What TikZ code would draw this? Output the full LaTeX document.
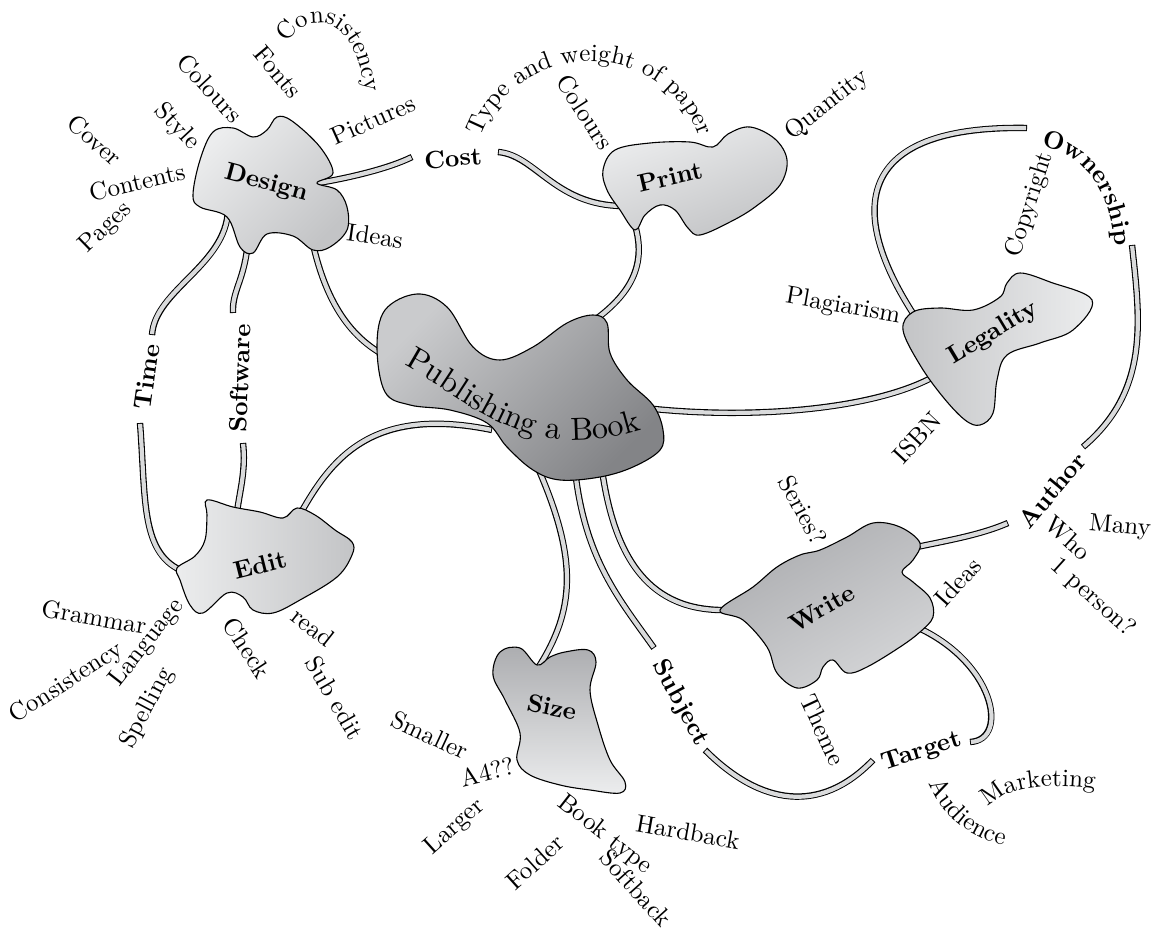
\documentclass[tikz,border=0pt]{standalone}
\usepackage{fontspec}
\setmainfont{lmroman10-regular.otf}[BoldFont=lmroman10-bold.otf]
\usetikzlibrary{decorations.text}
\definecolor{tubecol}{HTML}{DADBDC}
\definecolor{pubL}{HTML}{CACBCD}
\definecolor{pubD}{HTML}{838487}
\definecolor{lightA}{HTML}{ECEDEE}
\definecolor{lightB}{HTML}{C3C4C6}
\definecolor{midA}{HTML}{ACADB0}
\definecolor{midB}{HTML}{D4D5D7}
\begin{document}
\begin{tikzpicture}[x=1pt,y=-1pt,
  tube/.style={draw=tubecol, line width=4.2pt, shorten <=0.9pt, shorten >=0.9pt,
    preaction={draw=black, line width=6.4pt, shorten <=0pt, shorten >=0pt}},
  blob/.style={draw=black, line width=1.1pt},
  lbl/.style={font=\fontsize{25}{30}\selectfont, inner sep=0pt},
  blbl/.style={font=\fontsize{25}{30}\selectfont\bfseries, inner sep=0pt},
  curvtext/.style={decorate, decoration={text along path, text align=center}}
]
\fontsize{25}{30}\selectfont
\useasboundingbox (0,0) rectangle (1156,933);

% ---------- attachment coordinates ----------
\coordinate (dsCost) at (312,184);
\coordinate (dsPub) at (312,240);
\coordinate (dsTime) at (228,210);
\coordinate (dsSoft) at (248,240);
\coordinate (costL) at (412,157);
\coordinate (costR) at (498,152);
\coordinate (prCost) at (622,206);
\coordinate (prPub) at (634,222);
\coordinate (pbDes) at (382,354);
\coordinate (pbPr) at (592,322);
\coordinate (pbLeg) at (645,408);
\coordinate (pbEd) at (492,430);
\coordinate (pbSize) at (538,468);
\coordinate (pbSubj) at (575,470);
\coordinate (pbWr) at (602,470);
\coordinate (lgPub) at (940,373);
\coordinate (lgOwn) at (916,318);
\coordinate (ownL) at (1027,128);
\coordinate (ownB) at (1132,245);
\coordinate (autT) at (1083,447);
\coordinate (autL) at (1008,523);
\coordinate (wrAut) at (912,548);
\coordinate (wrTar) at (912,625);
\coordinate (wrPub) at (728,610);
\coordinate (tarR) at (970,742);
\coordinate (tarL) at (873,760);
\coordinate (subT) at (654,648);
\coordinate (subB) at (705,750);
\coordinate (szPub) at (538,668);
\coordinate (edPub) at (298,518);
\coordinate (edSoft) at (237,512);
\coordinate (edTime) at (185,572);
\coordinate (timeT) at (152,335);
\coordinate (timeB) at (140,423);
\coordinate (softT) at (233,313);
\coordinate (softB) at (243,443);

% ---------- tubes ----------
\draw[tube] (dsCost) .. controls (350,178) and (390,168) .. (costL);
\draw[tube] (costR) .. controls (535,155) and (555,205) .. (prCost);
\draw[tube] (dsPub) .. controls (322,285) and (340,330) .. (pbDes);
\draw[tube] (dsTime) .. controls (226,265) and (155,290) .. (timeT);
\draw[tube] (timeB) .. controls (146,500) and (140,555) .. (edTime);
\draw[tube] (dsSoft) .. controls (245,280) and (232,290) .. (softT);
\draw[tube] (softB) .. controls (246,470) and (240,490) .. (edSoft);
\draw[tube] (edPub) .. controls (330,460) and (370,405) .. (pbEd);
\draw[tube] (prPub) .. controls (648,265) and (630,295) .. (pbPr);
\draw[tube] (pbLeg) .. controls (750,420) and (880,410) .. (lgPub);
\draw[tube] (lgOwn) .. controls (845,210) and (855,125) .. (ownL);
\draw[tube] (ownB) .. controls (1140,320) and (1150,390) .. (autT);
\draw[tube] (wrAut) .. controls (950,540) and (980,535) .. (autL);
\draw[tube] (wrTar) .. controls (995,660) and (1010,740) .. (tarR);
\draw[tube] (subB) .. controls (760,805) and (820,815) .. (tarL);
\draw[tube] (pbSubj) .. controls (585,560) and (620,600) .. (subT);
\draw[tube] (pbSize) .. controls (578,560) and (575,610) .. (szPub);
\draw[tube] (pbWr) .. controls (615,560) and (650,612) .. (wrPub);

% ---------- blobs ----------
% Design
\path[blob, top color=lightA, bottom color=lightB, shading angle=45]
  plot[smooth cycle, tension=0.6] coordinates {(213,132) (233,128) (253,137) (267,130) (277,117) (292,121) (320,147) (333,173) (317,183) (337,190) (347,207) (347,230) (330,247) (313,250) (293,236) (267,234) (253,253) (240,247) (227,217) (200,207) (193,195) (200,160)};
% Print
\path[blob, top color=lightA, bottom color=lightB, shading angle=20]
  plot[smooth cycle, tension=0.6] coordinates {(603,170) (615,150) (650,143) (690,142) (713,147) (728,134) (750,127) (775,139) (787,160) (780,185) (755,207) (730,222) (700,235) (688,228) (675,210) (660,205) (645,215) (635,230) (620,210) (607,190)};
% Publishing
\path[blob, top color=pubL, bottom color=pubD, shading angle=45]
  plot[smooth cycle, tension=0.6] coordinates {(377,347) (385,310) (417,294) (447,307) (473,347) (500,360) (533,347) (567,323) (593,315) (607,323) (610,353) (627,380) (653,405) (663,430) (660,450) (633,467) (600,477) (560,480) (533,470) (507,447) (487,423) (450,410) (410,405) (385,392)};
% Legality
\path[blob, top color=lightB, bottom color=lightA, shading angle=90]
  plot[smooth cycle, tension=0.6] coordinates {(1007,283) (1020,273) (1050,282) (1092,300) (1073,330) (1040,343) (1007,355) (997,380) (993,413) (980,425) (965,420) (943,397) (920,365) (903,330) (913,312) (940,308) (973,310) (1000,297)};
% Write
\path[blob, top color=midA, bottom color=midB, shading angle=30]
  plot[smooth cycle, tension=0.6] coordinates {(720,610) (753,587) (777,567) (800,555) (820,550) (847,537) (873,523) (900,527) (920,543) (913,560) (902,572) (913,582) (930,598) (933,617) (920,632) (900,647) (867,667) (847,673) (833,660) (823,667) (817,680) (797,688) (777,673) (767,647) (743,620)};
% Size
\path[blob, top color=midA, bottom color=lightA, shading angle=0]
  plot[smooth cycle, tension=0.6] coordinates {(537,665) (520,648) (500,652) (493,675) (505,700) (520,733) (517,760) (530,775) (560,785) (590,790) (620,793) (625,782) (610,760) (598,725) (590,690) (596,662) (588,650) (565,652) (550,657)};
% Edit
\path[blob, top color=lightA, bottom color=lightB, shading angle=90]
  plot[smooth cycle, tension=0.6] coordinates {(207,500) (233,507) (260,512) (283,518) (297,508) (315,515) (335,530) (352,542) (352,555) (337,577) (300,600) (273,613) (253,610) (243,597) (227,593) (203,613) (190,605) (180,580) (177,568) (195,556) (205,540) (207,515)};

% ---------- blob labels ----------
\node[blbl, rotate=-15] (design) at (266,184) {Design};
\node[blbl, rotate=13] (print) at (670,177) {Print};
\node[blbl, rotate=31] (legality) at (993,333) {Legality};
\node[blbl, rotate=30] (write) at (822,608) {Write};
\node[blbl, rotate=-12] (size) at (552,707) {Size};
\node[blbl, rotate=14] (edit) at (260,565) {Edit};
\path[curvtext, decoration={text={|\fontsize{32}{38}\selectfont|Publishing a Book}}]
  (394,360) .. controls (468,395) and (520,472) .. (652,426);

% ---------- branch labels (bold) ----------
\node[blbl, rotate=5] (cost) at (453,158) {Cost};
\node[blbl, rotate=82] (time) at (147,377) {Time};
\node[blbl, rotate=88] (software) at (240,378) {Software};
\node[blbl, rotate=50] (author) at (1052,490) {Author};
\node[blbl, rotate=18] (target) at (922,752) {Target};
\node[blbl, rotate=-62] (subject) at (680,703) {Subject};
\path[curvtext, decoration={text={|\bfseries|Ownership}}]
  (1035,145) .. controls (1075,150) and (1112,180) .. (1115,252);

% ---------- Design leaves ----------
\node[lbl, rotate=-42] (cover) at (95,140) {Cover};
\node[lbl, rotate=13] (contents) at (137,182) {Contents};
\node[lbl, rotate=44] (pages) at (106,228) {Pages};
\node[lbl, rotate=-47] (style) at (177,127) {Style};
\node[lbl, rotate=-47] (colours1) at (210,88) {Colours};
\node[lbl, rotate=-50] (fonts) at (278,72) {Fonts};
\path[curvtext, decoration={text={Consistency}}]
  (284,50) .. controls (298,12) and (358,2) .. (366,100);
\node[lbl, rotate=24] (pictures) at (373,120) {Pictures};
\node[lbl, rotate=-8] (ideas1) at (375,236) {Ideas};

% ---------- Print leaves ----------
\path[curvtext, decoration={text={Type and weight of paper}}]
  (480,138) .. controls (517,36) and (663,36) .. (700,138);
\node[lbl, rotate=-57] (colours2) at (585,112) {Colours};
\node[lbl, rotate=38] (quantity) at (827,105) {Quantity};

% ---------- Legality leaves ----------
\node[lbl, rotate=72] (copyright) at (1030,205) {Copyright};
\node[lbl, rotate=-10] (plagiarism) at (843,307) {Plagiarism};
\node[lbl, rotate=47] (isbn) at (917,438) {ISBN};

% ---------- Write leaves ----------
\node[lbl, rotate=-62] (series) at (803,510) {Series?};
\node[lbl, rotate=-5] (many) at (1120,527) {Many};
\node[lbl, rotate=-42] (who) at (1068,538) {Who};
\node[lbl, rotate=-42] (person) at (1093,598) {1 person?};
\node[lbl, rotate=48] (ideas2) at (958,582) {Ideas};
\node[lbl, rotate=-65] (theme) at (823,730) {Theme};
\path[curvtext, decoration={text={Audience}}]
  (924,768) .. controls (934,808) and (965,842) .. (1020,848);
\path[curvtext, decoration={text={Marketing}}]
  (980,818) .. controls (998,790) and (1030,780) .. (1108,790);

% ---------- Size leaves ----------
\node[lbl, rotate=-25] (smaller) at (430,735) {Smaller};
\node[lbl, rotate=14] (a4) at (487,772) {A4??};
\node[lbl, rotate=42] (larger) at (455,827) {Larger};
\node[lbl, rotate=-38] (booktype) at (605,835) {Book type};
\node[lbl, rotate=-10] (hardback) at (688,832) {Hardback};
\node[lbl, rotate=42] (folder) at (535,862) {Folder};
\node[lbl, rotate=-48] (softback) at (636,888) {Softback};

% ---------- Edit leaves ----------
\node[lbl, rotate=-10] (grammar) at (94,617) {Grammar};
\node[lbl, rotate=52] (language) at (147,643) {Language};
\node[lbl, rotate=33] (consistency2) at (67,683) {Consistency};
\node[lbl, rotate=62] (spelling) at (147,708) {Spelling};
\node[lbl, rotate=-57] (check) at (247,648) {Check};
\node[lbl, rotate=-38] (read) at (313,627) {read};
\node[lbl, rotate=-60] (subedit) at (335,698) {Sub edit};
\end{tikzpicture}
\end{document}
